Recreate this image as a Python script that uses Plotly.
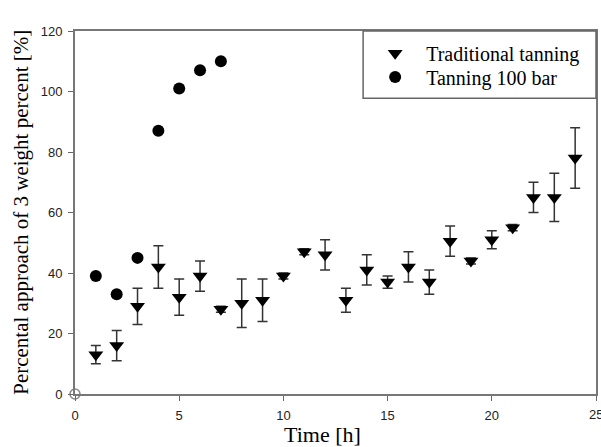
import plotly.graph_objects as go

time_trad = list(range(1, 25))
trad_values = [13, 16, 29, 42, 32, 39, 28, 30, 31, 39, 47, 46, 31, 41, 37, 42, 37, 50.5, 44, 51, 55, 65, 65, 78]
trad_errors = [3, 5, 6, 7, 6, 5, 1, 8, 7, 1, 1, 5, 4, 5, 2, 5, 4, 5, 1, 3, 1, 5, 8, 10]

time_100bar = [1, 2, 3, 4, 5, 6, 7]
bar100_values = [39, 33, 45, 87, 101, 107, 110]

origin_x = [0]
origin_y = [0]

x_ticks = [0, 5, 10, 15, 20, 25]
x_ticktext = ["0", "5", "10", "15", "20", ""]
y_ticks = [0, 20, 40, 60, 80, 100, 120]

serif = "Liberation Serif, Times New Roman, serif"
sans = "Liberation Sans, Arial, sans-serif"

fig = go.Figure()
fig.add_trace(go.Scatter(
    x=time_trad, y=trad_values, mode="markers", name="Traditional tanning", legend="legend",
    marker=dict(symbol="triangle-down", size=13, color="black"),
    error_y=dict(type="data", array=trad_errors, visible=True, color="#333333", thickness=1.5, width=5),
))
fig.add_trace(go.Scatter(
    x=time_100bar, y=bar100_values, mode="markers", name="Tanning 100 bar", legend="legend2",
    marker=dict(symbol="circle", size=12, color="black"),
))
fig.add_trace(go.Scatter(
    x=origin_x, y=origin_y, mode="markers", showlegend=False,
    marker=dict(symbol="circle", size=10, color="white", line=dict(color="#888888", width=1.5)),
    cliponaxis=False,
))

fig.add_shape(type="rect", xref="paper", yref="paper", x0=0.553, x1=1.0, y0=0.815, y1=1.0,
              line=dict(color="#666666", width=1.5), fillcolor="rgba(0,0,0,0)", layer="above")

fig.add_annotation(text="25", x=x_ticks[-1], y=0, xref="x", yref="y", yanchor="top", xanchor="center",
                   yshift=-11, showarrow=False, font=dict(family=sans, size=13, color="#222222"))
fig.add_annotation(text="Time [h]", xref="paper", yref="paper", x=0.476, y=-0.112, yanchor="middle",
                   xanchor="center", showarrow=False, font=dict(family=serif, size=22, color="black"))
fig.add_annotation(text="Percental approach of 3 weight percent [%]", xref="paper", yref="paper",
                   x=-0.105, y=0.5, xanchor="center", yanchor="middle", textangle=-90, showarrow=False,
                   font=dict(family=serif, size=21, color="black"))

legend_style = dict(xanchor="left", yanchor="middle",
                    font=dict(family=serif, size=20, color="black"),
                    bgcolor="rgba(0,0,0,0)", borderwidth=0, itemwidth=52)

fig.update_layout(
    width=601, height=447,
    margin=dict(l=75, r=5, t=31, b=53),
    paper_bgcolor="white", plot_bgcolor="white",
    showlegend=True,
    legend=dict(x=0.555, y=0.939, **legend_style),
    legend2=dict(x=0.555, y=0.873, **legend_style),
    xaxis=dict(range=[0, 25], tickvals=x_ticks, ticktext=x_ticktext, ticks="outside", ticklen=5,
               tickcolor="#666666", ticklabelstandoff=3,
               showline=True, linecolor="#777777", linewidth=2, mirror=True, showgrid=False, zeroline=False,
               automargin=False,
               tickfont=dict(family=sans, size=13, color="#222222")),
    yaxis=dict(range=[0, 120], tickvals=y_ticks, ticks="outside", ticklen=5, tickcolor="#666666",
               ticklabelstandoff=3,
               showline=True, linecolor="#777777", linewidth=2, mirror=True, showgrid=False, zeroline=False,
               automargin=False,
               tickfont=dict(family=sans, size=13, color="#222222")),
)

fig.write_html("out.html", config={"displayModeBar": False},
               post_script="document.body.style.margin='0';document.body.style.overflow='hidden';")
